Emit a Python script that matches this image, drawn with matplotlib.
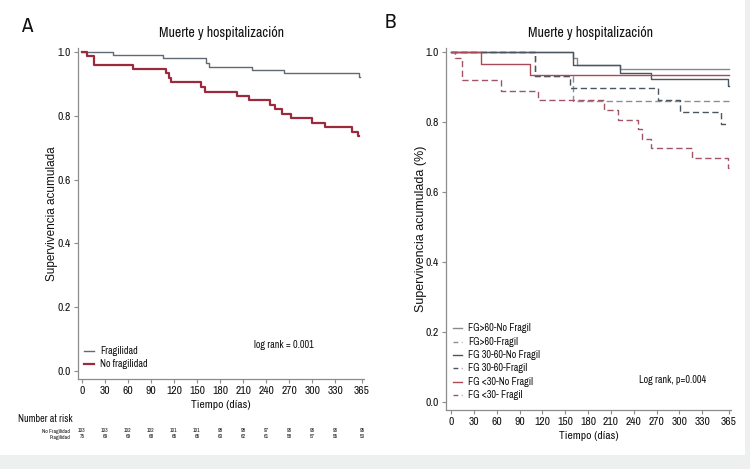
import matplotlib
matplotlib.use("Agg")
import matplotlib.pyplot as plt
from matplotlib import font_manager as fm
from matplotlib.patches import Rectangle
from matplotlib.lines import Line2D

names = {f.name for f in fm.fontManager.ttflist}
if 'Archivo Narrow' in names:
    NARROW = ['Archivo Narrow', 'DejaVu Sans']
elif 'Liberation Sans Narrow' in names:
    NARROW = ['Liberation Sans Narrow', 'DejaVu Sans']
else:
    NARROW = ['DejaVu Sans']
REG = ['Liberation Sans', 'DejaVu Sans']
plt.rcParams['font.family'] = NARROW
plt.rcParams['font.stretch'] = 'condensed'

# ---------------- data ----------------
xticks = [0, 30, 60, 90, 120, 150, 180, 210, 240, 270, 300, 330, 365]
yticks = [0.0, 0.2, 0.4, 0.6, 0.8, 1.0]

# Panel A
a_frag_t = [0, 40, 105, 161, 165, 222, 263, 361, 362]
a_frag_s = [1.0, 0.991, 0.981, 0.964, 0.953, 0.943, 0.933, 0.923, 0.923]
a_nofrag_t = [0, 7, 15, 67, 110, 113, 116, 155, 160, 202, 218, 245, 251, 261, 273, 300, 317, 352, 360, 361]
a_nofrag_s = [1.0, 0.987, 0.960, 0.946, 0.933, 0.920, 0.905, 0.890, 0.876, 0.862, 0.848, 0.834,
              0.820, 0.806, 0.792, 0.778, 0.764, 0.750, 0.737, 0.737]
risk_nofrag = [103, 103, 102, 102, 101, 101, 98, 98, 97, 96, 96, 96, 95]
risk_frag = [75, 69, 69, 68, 65, 65, 63, 62, 61, 58, 57, 55, 53]

# Panel B
b_names = ['FG>60-No Fragil', 'FG>60-Fragil', 'FG 30-60-No Fragil', 'FG 30-60-Fragil',
           'FG <30-No Fragil', 'FG <30- Fragil']
b_t = [
    [0, 160, 165, 222, 365],
    [0, 110, 160, 365],
    [0, 160, 222, 263, 364, 365],
    [0, 110, 156, 272, 301, 354, 365],
    [0, 39, 104, 365],
    [0, 5, 14, 66, 114, 201, 219, 245, 251, 262, 317, 364, 365],
]
b_s = [
    [1.0, 0.982, 0.963, 0.951, 0.951],
    [1.0, 0.931, 0.859, 0.859],
    [1.0, 0.963, 0.941, 0.922, 0.902, 0.902],
    [1.0, 0.931, 0.897, 0.862, 0.828, 0.793, 0.793],
    [1.0, 0.966, 0.933, 0.933],
    [1.0, 0.984, 0.920, 0.889, 0.862, 0.834, 0.806, 0.779, 0.751, 0.725, 0.696, 0.668, 0.668],
]
b_colors = ['#858a8f', '#8a8f94', '#4a5560', '#4a5560', '#a84a58', '#a05466']
b_dashed = [False, True, False, True, False, True]

# ---------------- figure ----------------
W, H = 750, 469
fig = plt.figure(figsize=(W / 100, H / 100), dpi=100, facecolor='#eef0f0')
fig.patches.append(Rectangle((0, 1 - 455 / H), 745 / W, 455 / H, transform=fig.transFigure,
                             facecolor='white', edgecolor='none', zorder=-5))

def fx(x):
    return x / W

def fy(y):
    return 1 - y / H

SPINE = '#8c8c8c'
TXT = '#111111'

def style_axes(ax):
    for s in ['top', 'right']:
        ax.spines[s].set_visible(False)
    for s in ['left', 'bottom']:
        ax.spines[s].set_color(SPINE)
        ax.spines[s].set_linewidth(0.9)
    ax.set_xticks(xticks)
    ax.set_yticks(yticks)
    ax.set_yticklabels([f"{v:.1f}" for v in yticks])
    ax.tick_params(axis='both', direction='out', length=3, width=0.8, color=SPINE,
                   labelsize=8.3, pad=2, labelcolor=TXT)
    ax.set_facecolor('none')

# Panel A axes
axA = fig.add_axes([fx(78), fy(379), (364 - 78) / W, (379 - 48) / H])
kx = 280 / 365
axA.set_xlim(-4 / kx, 365 + 2 / kx)
ky = 319
axA.set_ylim(-8 / ky, 1 + 4 / ky)
style_axes(axA)
axA.step(a_frag_t, a_frag_s, where='post', color='#5f6a74', lw=1.0)
axA.step(a_nofrag_t, a_nofrag_s, where='post', color='#9b2a3c', lw=1.6)
axA.set_xlabel('Tiempo (días)', fontsize=8.3, labelpad=3, color=TXT)
axA.set_ylabel('Supervivencia acumulada', fontsize=8.5, family=REG, stretch='normal',
               labelpad=0, color=TXT)

fig.text(fx(21), fy(27), 'A', fontsize=15, va='center', ha='left', color=TXT)
fig.text(fx(221), fy(33), 'Muerte y hospitalización', fontsize=10, ha='center', va='center', color=TXT)

# Legend A
for yy, col, lw, lab in [(350.7, '#5f6a74', 1.0, 'Fragilidad'), (364, '#9b2a3c', 1.6, 'No fragilidad')]:
    fig.add_artist(Line2D([fx(84), fx(94)], [fy(yy), fy(yy)], color=col, lw=lw))
    fig.text(fx(100), fy(yy), lab, fontsize=7.3, va='center', ha='left', color=TXT)
fig.text(fx(254), fy(345), 'log rank = 0.001', fontsize=7.3, va='center', ha='left', color=TXT)

# Number at risk table
fig.text(fx(18), fy(419), 'Number at risk', fontsize=7.3, va='center', ha='left', color=TXT)
fig.text(fx(70), fy(431), 'No Fragilidad', fontsize=4, va='center', ha='right', color=TXT)
fig.text(fx(70), fy(437), 'Fragilidad', fontsize=4, va='center', ha='right', color=TXT)
for t, n1, n2 in zip(xticks, risk_nofrag, risk_frag):
    xp = 82 + t * kx
    fig.text(fx(xp), fy(431), str(n1), fontsize=4, va='center', ha='center', color=TXT)
    fig.text(fx(xp), fy(437), str(n2), fontsize=4, va='center', ha='center', color=TXT)

# Panel B axes
axB = fig.add_axes([fx(446), fy(410), (731 - 446) / W, (410 - 48) / H])
kxb = 278 / 365
axB.set_xlim(-5 / kxb, 365 + 2 / kxb)
kyb = 350
axB.set_ylim(-8 / kyb, 1 + 4 / kyb)
style_axes(axB)
for t, s, c, d in zip(b_t, b_s, b_colors, b_dashed):
    ln, = axB.step(t, s, where='post', color=c, lw=1.0)
    if d:
        ln.set_dashes((4.5, 2.5))
axB.set_xlabel('Tiempo (días)', fontsize=8.3, labelpad=3, color=TXT)
axB.set_ylabel('Supervivencia acumulada (%)', fontsize=9, family=REG, stretch='normal',
               labelpad=-1, color=TXT)

fig.text(fx(385), fy(22), 'B', fontsize=15, va='center', ha='left', color=TXT)
fig.text(fx(590), fy(33), 'Muerte y hospitalización', fontsize=10, ha='center', va='center', color=TXT)

# Legend B
for i, (lab, c, d) in enumerate(zip(b_names, b_colors, b_dashed)):
    yy = 328.3 + i * 13.35
    ln = Line2D([fx(453), fx(462)], [fy(yy), fy(yy)], color=c, lw=1.0)
    if d:
        ln.set_dashes((3.5, 2.5))
    fig.add_artist(ln)
    fig.text(fx(468), fy(yy), lab, fontsize=7.3, va='center', ha='left', color=TXT)
fig.text(fx(639), fy(380), 'Log rank, p=0.004', fontsize=7.3, va='center', ha='left', color=TXT)

fig.savefig('out.png', dpi=100, facecolor=fig.get_facecolor())
